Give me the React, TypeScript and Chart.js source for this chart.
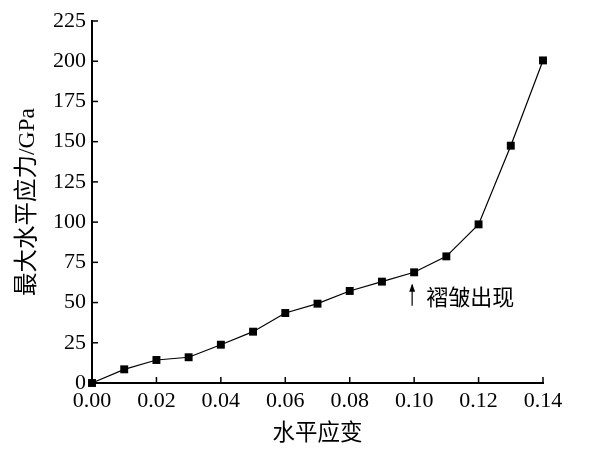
import React, { useEffect, useRef } from "react";
import { Chart, registerables } from "chart.js";

Chart.register(...registerables);

const strains = [0, 0.01, 0.02, 0.03, 0.04, 0.05, 0.06, 0.07, 0.08, 0.09, 0.1, 0.11, 0.12, 0.13, 0.14];
const stresses = [0, 8.5, 14.3, 16.0, 23.8, 31.9, 43.5, 49.3, 57.2, 63.0, 68.8, 78.7, 98.6, 147.5, 200.5];
const xTitle = "水平应变";
const yTitle = "最大水平应力/GPa";
const noteText = "褶皱出现";
const noteX = 0.1;
const noteArrowFrom = 48;
const noteArrowTo = 61;
const noteTextY = 53.5;

const FONT = "'Liberation Serif', 'Noto Sans CJK SC', serif";
const CJK = "'Noto Sans CJK SC', sans-serif";

const innerTicks = {
  id: "innerTicks",
  afterDraw(chart: any) {
    const ctx = chart.ctx;
    const xs = chart.scales.x;
    const ys = chart.scales.y;
    const area = chart.chartArea;
    ctx.save();
    ctx.strokeStyle = "#000";
    ctx.lineWidth = 1.5;
    const len = 6;
    xs.ticks.forEach((t: any) => {
      const px = xs.getPixelForValue(t.value);
      ctx.beginPath();
      ctx.moveTo(px, area.bottom);
      ctx.lineTo(px, area.bottom - len);
      ctx.stroke();
    });
    ys.ticks.forEach((t: any) => {
      const py = ys.getPixelForValue(t.value);
      ctx.beginPath();
      ctx.moveTo(area.left, py);
      ctx.lineTo(area.left + len, py);
      ctx.stroke();
    });
    // annotation
    const ax = xs.getPixelForValue(noteX) - 2;
    const y1 = ys.getPixelForValue(noteArrowFrom);
    const y2 = ys.getPixelForValue(noteArrowTo);
    ctx.lineWidth = 1.2;
    ctx.beginPath();
    ctx.moveTo(ax, y1);
    ctx.lineTo(ax, y2);
    ctx.stroke();
    ctx.fillStyle = "#000";
    ctx.beginPath();
    ctx.moveTo(ax, y2 - 1);
    ctx.lineTo(ax - 3, y2 + 7);
    ctx.lineTo(ax + 3, y2 + 7);
    ctx.closePath();
    ctx.fill();
    ctx.font = `22px ${CJK}`;
    ctx.textAlign = "left";
    ctx.textBaseline = "middle";
    ctx.fillText(noteText, ax + 14, ys.getPixelForValue(noteTextY));
    ctx.restore();
  },
};

export default function App() {
  const ref = useRef<HTMLCanvasElement>(null);
  useEffect(() => {
    if (!ref.current) return;
    const chart = new Chart(ref.current, {
      type: "line",
      data: {
        datasets: [
          {
            data: strains.map((s, i) => ({ x: s, y: stresses[i] })),
            borderColor: "#000",
            backgroundColor: "#000",
            borderWidth: 1.2,
            pointStyle: "rect",
            pointRadius: 5.6,
            pointBorderWidth: 0,
            pointBackgroundColor: "#000",
            tension: 0,
            clip: false,
          } as any,
        ],
      },
      options: {
        animation: false,
        responsive: false,
        devicePixelRatio: 1,
        layout: { padding: { left: 0, right: 71, top: 21, bottom: 0 } },
        plugins: { legend: { display: false }, tooltip: { enabled: false } },
        scales: {
          x: {
            type: "linear",
            min: 0,
            max: 0.14,
            ticks: {
              stepSize: 0.02,
              color: "#000",
              font: { family: FONT, size: 22 },
              padding: 5,
              maxRotation: 0,
              callback: (v: any) => Number(v).toFixed(2),
            },
            grid: { display: false, drawTicks: false },
            border: { display: true, color: "#000", width: 2 },
            title: {
              display: true,
              text: xTitle,
              color: "#000",
              font: { family: CJK, size: 22.5 },
              padding: { top: 0, bottom: 4 },
            },
            afterFit: (s: any) => {
              s.height = 66;
            },
          },
          y: {
            type: "linear",
            min: 0,
            max: 225,
            ticks: {
              stepSize: 25,
              color: "#000",
              font: { family: FONT, size: 22 },
              padding: 6,
            },
            grid: { display: false, drawTicks: false },
            border: { display: true, color: "#000", width: 2 },
            title: {
              display: true,
              text: yTitle,
              color: "#000",
              font: { family: FONT, size: 23.5 },
              padding: { top: 14, bottom: 0 },
            },
            afterFit: (s: any) => {
              s.width = 92;
            },
          },
        },
      },
      plugins: [innerTicks],
    });
    return () => chart.destroy();
  }, []);
  return (
    <div style={{ position: "fixed", left: 0, top: 0, width: 614, height: 449, background: "#fff" }}>
      <canvas ref={ref} width={614} height={449} style={{ width: 614, height: 449 }} />
    </div>
  );
}
